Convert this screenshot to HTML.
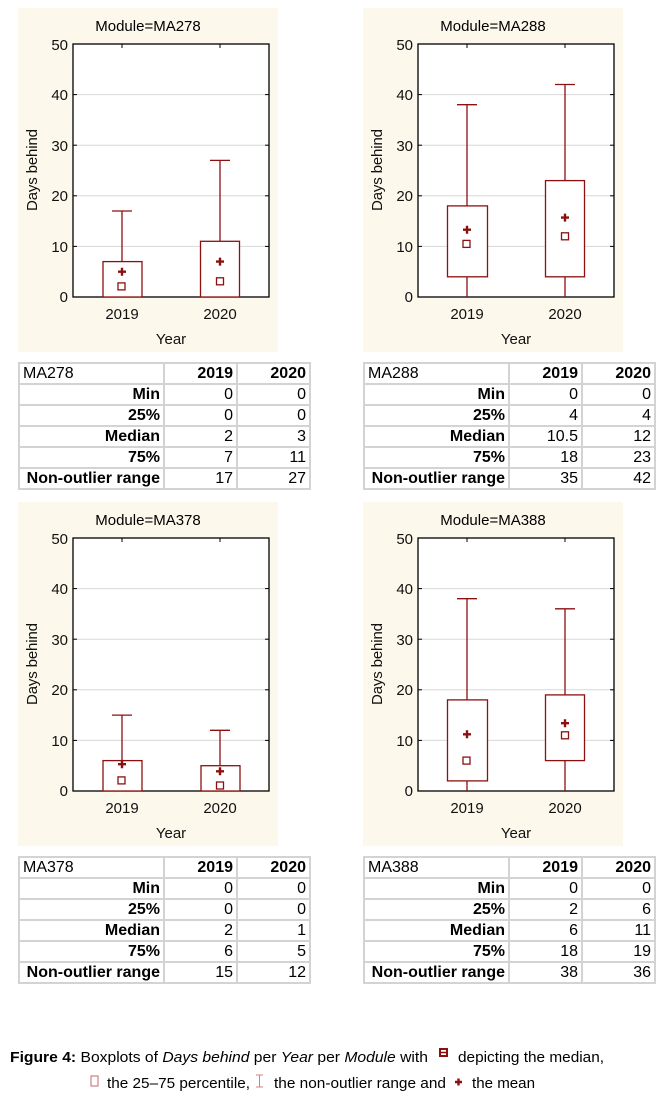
<!DOCTYPE html>
<html><head><meta charset="utf-8"><style>
body{margin:0;background:#fff;width:667px;height:1103px;position:relative;overflow:hidden;font-family:"Liberation Sans",Arial,sans-serif}
svg{position:absolute;left:0;top:0}
table{position:absolute;border-collapse:collapse;font-size:16px;width:291px;table-layout:fixed}
td{border:2px solid #d3d3d3;height:19px;padding:0 3px;line-height:19px;text-align:right;overflow:hidden;white-space:nowrap}
td.l{font-weight:bold}
td.h{text-align:left;font-weight:normal}
tr:first-child td{font-weight:bold}
tr:first-child td.h{font-weight:normal}
</style></head><body>
<svg width="667" height="1103" font-family="Liberation Sans, Arial, sans-serif">
<defs>
<g id="frame">
<rect x="18" y="8" width="260" height="344" fill="#fdf8ec"/>
<rect x="73" y="44" width="196" height="253" fill="#fff"/>
<g stroke="#d8d8d8" stroke-width="1"><line x1="73" x2="269" y1="94.6" y2="94.6"/><line x1="73" x2="269" y1="145.2" y2="145.2"/><line x1="73" x2="269" y1="195.8" y2="195.8"/><line x1="73" x2="269" y1="246.4" y2="246.4"/></g>
<rect x="73" y="44" width="196" height="253" fill="none" stroke="#000" stroke-width="1.3"/>
<g stroke="#000" stroke-width="1"><line x1="73" x2="77" y1="94.6" y2="94.6"/><line x1="73" x2="77" y1="145.2" y2="145.2"/><line x1="73" x2="77" y1="195.8" y2="195.8"/><line x1="73" x2="77" y1="246.4" y2="246.4"/>
<line x1="265" x2="269" y1="94.6" y2="94.6"/><line x1="265" x2="269" y1="145.2" y2="145.2"/><line x1="265" x2="269" y1="195.8" y2="195.8"/><line x1="265" x2="269" y1="246.4" y2="246.4"/>
<line x1="122" x2="122" y1="44" y2="48"/><line x1="220" x2="220" y1="44" y2="48"/></g>
<g font-size="15" text-anchor="end" fill="#111"><text x="68" y="50">50</text><text x="68" y="100">40</text><text x="68" y="151">30</text><text x="68" y="201">20</text><text x="68" y="252">10</text><text x="68" y="302">0</text></g>
<g font-size="15" text-anchor="middle" fill="#111"><text x="122" y="319">2019</text><text x="220" y="319">2020</text><text x="171" y="344">Year</text><text transform="translate(37,170) rotate(-90)" textLength="82">Days behind</text></g>
</g>
</defs>
<g id="p1"><use href="#frame"/>
<text x="148" y="31" font-size="15" text-anchor="middle">Module=MA278</text>
<g stroke="#8b1010" stroke-width="1.3" fill="none">
<line x1="122" x2="122" y1="211" y2="261.6"/><line x1="112" x2="132" y1="211" y2="211"/><rect x="103" y="261.6" width="39" height="35.4" fill="#fff"/><rect x="118" y="282.9" width="7" height="7"/>
<line x1="220" x2="220" y1="160.4" y2="241.3"/><line x1="210" x2="230" y1="160.4" y2="160.4"/><rect x="200.5" y="241.3" width="39" height="55.7" fill="#fff"/><rect x="216.5" y="277.8" width="7" height="7"/></g>
<g stroke="#8b1010" stroke-width="2.4"><path d="M118 271.7h8M122 267.7v8"/><path d="M216 261.6h8M220 257.6v8"/></g>
</g>
<g transform="translate(345,0)"><use href="#frame"/>
<text x="148" y="31" font-size="15" text-anchor="middle">Module=MA288</text>
<g stroke="#8b1010" stroke-width="1.3" fill="none">
<line x1="122" x2="122" y1="104.7" y2="297"/><line x1="112" x2="132" y1="104.7" y2="104.7"/><rect x="102.5" y="205.9" width="40" height="70.9" fill="#fff"/><rect x="118" y="240.4" width="7" height="7"/>
<line x1="220" x2="220" y1="84.5" y2="297"/><line x1="210" x2="230" y1="84.5" y2="84.5"/><rect x="200.5" y="180.6" width="39" height="96.2" fill="#fff"/><rect x="216.5" y="232.8" width="7" height="7"/></g>
<g stroke="#8b1010" stroke-width="2.4"><path d="M118 229.7h8M122 225.7v8"/><path d="M216 217.6h8M220 213.6v8"/></g>
</g>
<g transform="translate(0,494)"><use href="#frame"/>
<text x="148" y="31" font-size="15" text-anchor="middle">Module=MA378</text>
<g stroke="#8b1010" stroke-width="1.3" fill="none">
<line x1="122" x2="122" y1="221.1" y2="266.6"/><line x1="112" x2="132" y1="221.1" y2="221.1"/><rect x="103" y="266.6" width="39" height="30.4" fill="#fff"/><rect x="118" y="282.9" width="7" height="7"/>
<line x1="220" x2="220" y1="236.3" y2="271.7"/><line x1="210" x2="230" y1="236.3" y2="236.3"/><rect x="201" y="271.7" width="39" height="25.3" fill="#fff"/><rect x="216.5" y="288" width="7" height="7"/></g>
<g stroke="#8b1010" stroke-width="2.4"><path d="M118 270.2h8M122 266.2v8"/><path d="M216 277.3h8M220 273.3v8"/></g>
</g>
<g transform="translate(345,494)"><use href="#frame"/>
<text x="148" y="31" font-size="15" text-anchor="middle">Module=MA388</text>
<g stroke="#8b1010" stroke-width="1.3" fill="none">
<line x1="122" x2="122" y1="104.7" y2="297"/><line x1="112" x2="132" y1="104.7" y2="104.7"/><rect x="102.5" y="205.9" width="40" height="81" fill="#fff"/><rect x="118" y="263.1" width="7" height="7"/>
<line x1="220" x2="220" y1="114.8" y2="297"/><line x1="210" x2="230" y1="114.8" y2="114.8"/><rect x="200.5" y="200.9" width="39" height="65.7" fill="#fff"/><rect x="216.5" y="237.8" width="7" height="7"/></g>
<g stroke="#8b1010" stroke-width="2.4"><path d="M118 240.3h8M122 236.3v8"/><path d="M216 229.2h8M220 225.2v8"/></g>
</g>
<!-- caption -->
<g font-size="14.5" fill="#000">
<text x="10" y="1062" textLength="418" lengthAdjust="spacingAndGlyphs"><tspan font-weight="bold">Figure 4:</tspan>  Boxplots of <tspan font-style="italic">Days behind</tspan> per <tspan font-style="italic">Year</tspan> per <tspan font-style="italic">Module</tspan> with</text>
<text x="458" y="1062" textLength="146" lengthAdjust="spacingAndGlyphs">depicting the median,</text>
<text x="107" y="1088" textLength="143" lengthAdjust="spacingAndGlyphs">the 25–75 percentile,</text>
<text x="274" y="1088" textLength="172" lengthAdjust="spacingAndGlyphs">the non-outlier range and</text>
<text x="472" y="1088" textLength="63" lengthAdjust="spacingAndGlyphs">the mean</text>
</g>
<rect x="440" y="1049" width="7" height="7" fill="none" stroke="#8b1010" stroke-width="2"/><line x1="440" x2="447" y1="1052.5" y2="1052.5" stroke="#8b1010" stroke-width="1.5"/>
<rect x="91" y="1076" width="7" height="10" fill="none" stroke="#d08080" stroke-width="1.2"/>
<path d="M256 1075h7M259.5 1075v12M256 1087h7" stroke="#d08080" stroke-width="1" fill="none"/>
<path d="M455 1082h7M458.5 1078.5v7" stroke="#8b1010" stroke-width="2.4"/>
</svg>

<table style="left:18px;top:362px"><colgroup><col style="width:145px"><col style="width:73px"><col style="width:73px"></colgroup>
<tr><td class="h">MA278</td><td>2019</td><td>2020</td></tr>
<tr><td class="l">Min</td><td>0</td><td>0</td></tr>
<tr><td class="l">25%</td><td>0</td><td>0</td></tr>
<tr><td class="l">Median</td><td>2</td><td>3</td></tr>
<tr><td class="l">75%</td><td>7</td><td>11</td></tr>
<tr><td class="l">Non-outlier range</td><td>17</td><td>27</td></tr></table>
<table style="left:363px;top:362px"><colgroup><col style="width:145px"><col style="width:73px"><col style="width:73px"></colgroup>
<tr><td class="h">MA288</td><td>2019</td><td>2020</td></tr>
<tr><td class="l">Min</td><td>0</td><td>0</td></tr>
<tr><td class="l">25%</td><td>4</td><td>4</td></tr>
<tr><td class="l">Median</td><td>10.5</td><td>12</td></tr>
<tr><td class="l">75%</td><td>18</td><td>23</td></tr>
<tr><td class="l">Non-outlier range</td><td>35</td><td>42</td></tr></table>
<table style="left:18px;top:856px"><colgroup><col style="width:145px"><col style="width:73px"><col style="width:73px"></colgroup>
<tr><td class="h">MA378</td><td>2019</td><td>2020</td></tr>
<tr><td class="l">Min</td><td>0</td><td>0</td></tr>
<tr><td class="l">25%</td><td>0</td><td>0</td></tr>
<tr><td class="l">Median</td><td>2</td><td>1</td></tr>
<tr><td class="l">75%</td><td>6</td><td>5</td></tr>
<tr><td class="l">Non-outlier range</td><td>15</td><td>12</td></tr></table>
<table style="left:363px;top:856px"><colgroup><col style="width:145px"><col style="width:73px"><col style="width:73px"></colgroup>
<tr><td class="h">MA388</td><td>2019</td><td>2020</td></tr>
<tr><td class="l">Min</td><td>0</td><td>0</td></tr>
<tr><td class="l">25%</td><td>2</td><td>6</td></tr>
<tr><td class="l">Median</td><td>6</td><td>11</td></tr>
<tr><td class="l">75%</td><td>18</td><td>19</td></tr>
<tr><td class="l">Non-outlier range</td><td>38</td><td>36</td></tr></table>
</body></html>
